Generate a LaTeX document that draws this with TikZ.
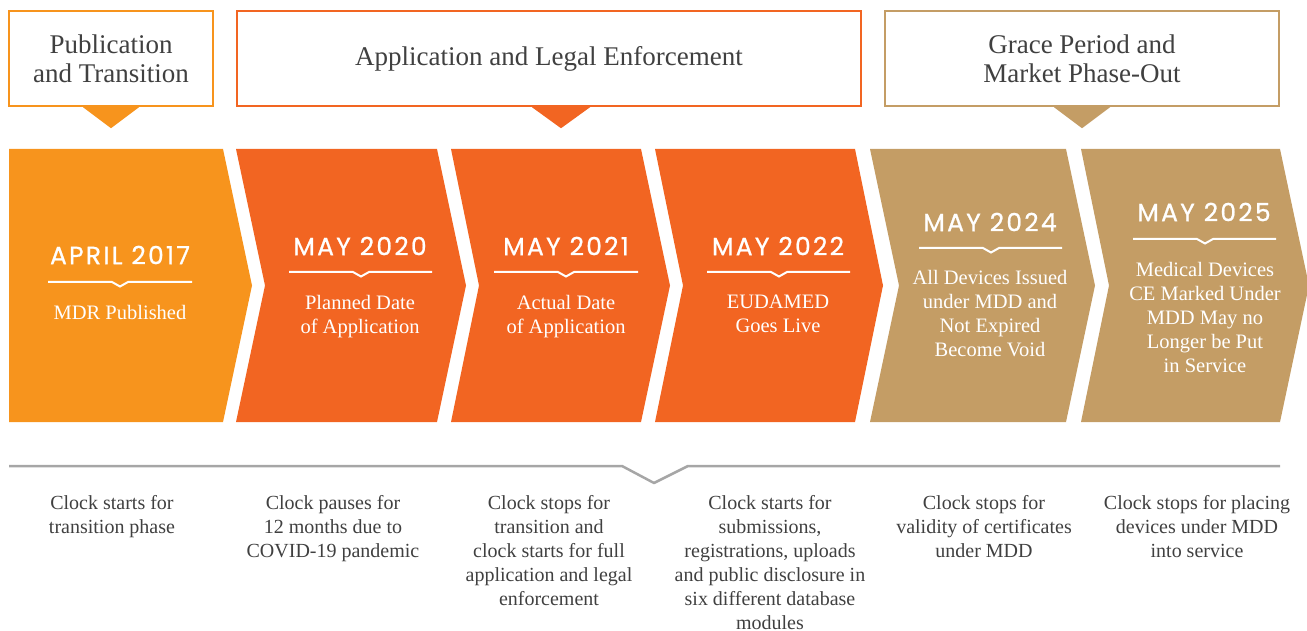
\documentclass[tikz,border=0pt]{standalone}
\usepackage{fontspec}
\setmainfont{Liberation Serif}
\newfontfamily\datefont[LetterSpace=9,FakeBold=0.8]{Poppins}
\definecolor{amber}{HTML}{F7941D}
\definecolor{rust}{HTML}{F26522}
\definecolor{sand}{HTML}{C49D65}
\definecolor{ink}{HTML}{404040}
\definecolor{rulegrey}{HTML}{A6A6A6}
\tikzset{
  phase/.style={line width=2.5pt, fill=white, text=ink, align=center,
    font=\fontsize{27}{29}\selectfont, inner sep=0pt, minimum height=95pt},
  date/.style={text=white, font=\datefont\fontsize{25}{24}\selectfont, inner sep=0pt},
  what/.style={text=white, align=center, font=\fontsize{20.5}{24}\selectfont,
    inner sep=0pt, anchor=north},
  note/.style={text=ink, align=center, font=\fontsize{20}{24}\selectfont,
    inner sep=0pt, anchor=north},
  tick/.style={white, line width=2pt},
}
\begin{document}
\begin{tikzpicture}[x=1pt,y=-1pt]
\useasboundingbox (0,0) rectangle (1307,631);
%
\node [phase, draw=amber, minimum width=204pt] (h1) at (111,58.5) {Publication\\and Transition};
\node [phase, draw=rust, minimum width=624pt] (h2) at (549,58.5) {Application and Legal Enforcement};
\node [phase, draw=sand, minimum width=394pt] (h3) at (1082,58.5) {Grace Period and\\Market Phase-Out};
\fill [amber] ([xshift=-28pt]h1.south) -- ([xshift=28pt]h1.south) -- ([yshift=-21pt]h1.south) -- cycle;
\fill [rust] ([xshift=-17pt]h2.south) -- ([xshift=41pt]h2.south) -- ([xshift=12pt,yshift=-21pt]h2.south) -- cycle;
\fill [sand] ([xshift=-28pt]h3.south) -- ([xshift=28pt]h3.south) -- ([yshift=-21pt]h3.south) -- cycle;
%
\fill [amber] (9,149) -- (223,149) -- (252,285.5) -- (223,422) -- (9,422) -- cycle;
\fill [rust] (236,149) -- (437,149) -- (466,285.5) -- (437,422) -- (236,422) -- (265,285.5) -- cycle;
\fill [rust] (451,149) -- (641,149) -- (670,285.5) -- (641,422) -- (451,422) -- (479,285.5) -- cycle;
\fill [rust] (655,149) -- (855,149) -- (883,285.5) -- (855,422) -- (655,422) -- (683,285.5) -- cycle;
\fill [sand] (870,149) -- (1066,149) -- (1095,285.5) -- (1066,422) -- (870,422) -- (899,285.5) -- cycle;
\fill [sand] (1081,149) -- (1280,149) -- (1309,285.5) -- (1280,422) -- (1081,422) -- (1109,285.5) -- cycle;
%
\node [date] (d1) at (120,255) {APRIL 2017};
\node [date] (d2) at (360,246) {MAY 2020};
\node [date] (d3) at (566,246) {MAY 2021};
\node [date] (d4) at (778,246) {MAY 2022};
\node [date] (d5) at (990,222) {MAY 2024};
\node [date] (d6) at (1204,212) {MAY 2025};
%
\draw [tick] (48,282) -- (112,282) -- (120,286.5) -- (128,282) -- (192,282);
\draw [tick] (289,272) -- (353,272) -- (361,276.5) -- (369,272) -- (432,272);
\draw [tick] (494,272) -- (558,272) -- (566,276.5) -- (574,272) -- (638,272);
\draw [tick] (707,272) -- (771,272) -- (779,276.5) -- (787,272) -- (850,272);
\draw [tick] (919,248) -- (983,248) -- (991,252.5) -- (999,248) -- (1062,248);
\draw [tick] (1133,239) -- (1197,239) -- (1205,243.5) -- (1213,239) -- (1276,239);
%
\node [what] (w1) at (120,305) {MDR Published};
\node [what] (w2) at (360,295) {Planned Date\\of Application};
\node [what] (w3) at (566,295) {Actual Date\\of Application};
\node [what] (w4) at (778,295) {EUDAMED\\Goes Live};
\node [what] (w5) at (990,270) {All Devices Issued\\under MDD and\\Not Expired\\Become Void};
\node [what] (w6) at (1205,262) {Medical Devices\\CE Marked Under\\MDD May no\\Longer be Put\\in Service};
%
\draw [rulegrey, line width=2.5pt, line join=round] (9,466) -- (622,466) -- (654,483) -- (688,466) -- (1280,466);
%
\node [note] (n1) at (112,495) {Clock starts for\\transition phase};
\node [note] (n2) at (333,495) {Clock pauses for\\12 months due to\\COVID-19 pandemic};
\node [note] (n3) at (549,495) {Clock stops for\\transition and\\clock starts for full\\application and legal\\enforcement};
\node [note] (n4) at (770,495) {Clock starts for\\submissions,\\registrations, uploads\\and public disclosure in\\six different database\\modules};
\node [note] (n5) at (984,495) {Clock stops for\\validity of certificates\\under MDD};
\node [note] (n6) at (1197,495) {Clock stops for placing\\devices under MDD\\into service};
\end{tikzpicture}
\end{document}
